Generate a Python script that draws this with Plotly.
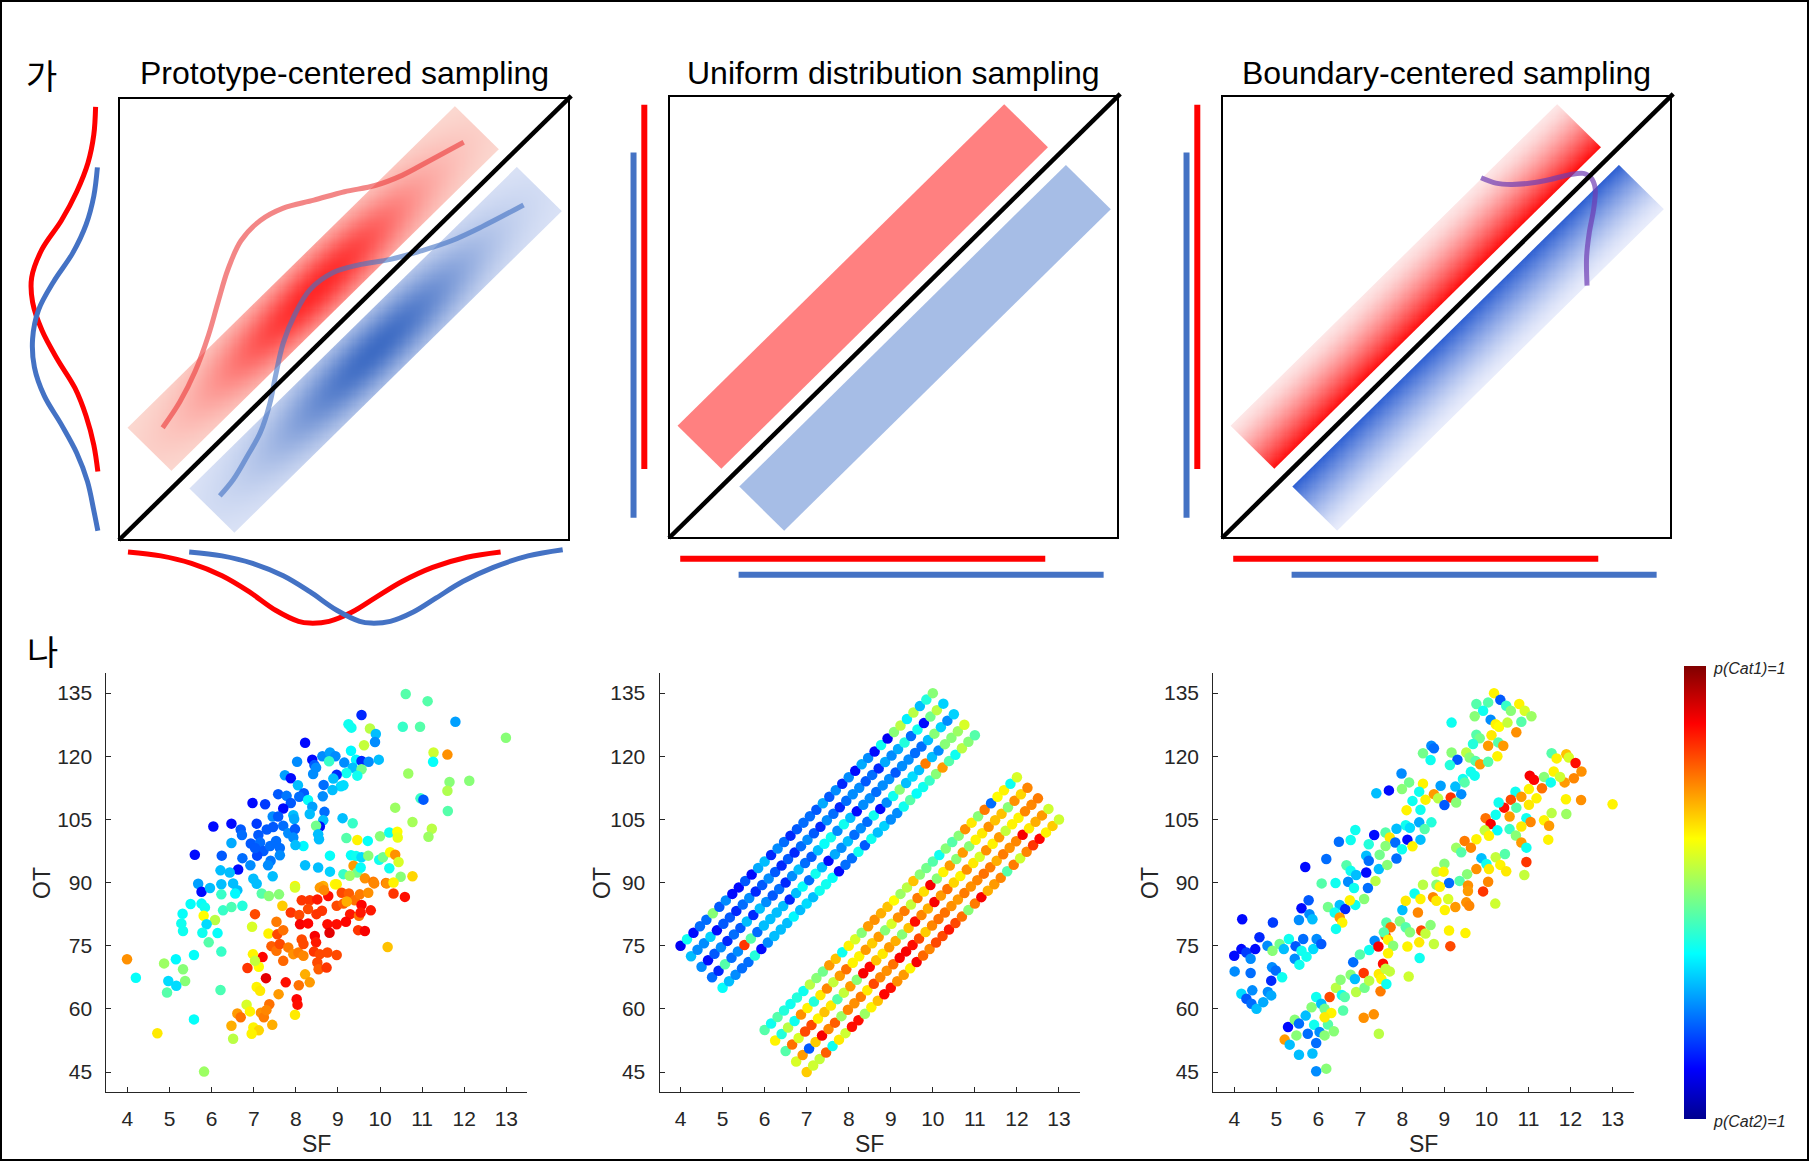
import numpy as np
import plotly.graph_objects as go

FIG_W, FIG_H = 1810, 1162
FONT = "Liberation Sans, Arial, Helvetica, sans-serif"
KFONT = "Noto Sans CJK KR, Noto Sans, sans-serif"
INK = "#262626"
RED = "#FF0000"
BLUE = "#4472C4"

# ------------------------------------------------------------------ text
TITLES = ["Prototype-centered sampling", "Uniform distribution sampling", "Boundary-centered sampling"]
SECTION_LABELS = ["가", "나"]
CBAR_TOP_LABEL = "p(Cat1)=1"
CBAR_BOTTOM_LABEL = "p(Cat2)=1"

# ------------------------------------------------------------------ top row schematics
# coordinates are relative to each square box: u (horizontal, 0..1), v (vertical, 0..1)
RED_BAND_U = [0.019, 0.1165, 0.844, 0.7465]
RED_BAND_V = [0.254, 0.1565, 0.884, 0.9815]
BLUE_BAND_U = [0.1565, 0.2565, 0.984, 0.884]
BLUE_BAND_V = [0.1165, 0.0165, 0.744, 0.844]
BAND_S = [0.273, 1.728]          # extent along the band (u+v)
RED_T = [0.04, 0.235]            # extent across the band (v-u), inner -> outer
BLUE_T = [-0.04, -0.24]

# prototype-centred density: peak position (s, t) and spread (along, across)
PROTO_RED_PEAK = [1.0, 0.13]
PROTO_BLUE_PEAK = [1.0, -0.14]
PROTO_SPREAD = [0.32, 0.07]

# marginal distributions around panel 1
PROTO_LEFT_RED_U = [-0.052, -0.056, -0.069, -0.094, -0.128, -0.171, -0.194, -0.192, -0.171, -0.137, -0.098, -0.073, -0.056, -0.047]
PROTO_LEFT_RED_V = [0.980, 0.917, 0.853, 0.788, 0.723, 0.658, 0.594, 0.538, 0.474, 0.409, 0.344, 0.280, 0.215, 0.155]
PROTO_LEFT_BLUE_U = [-0.048, -0.056, -0.073, -0.103, -0.145, -0.179, -0.192, -0.188, -0.166, -0.128, -0.094, -0.070, -0.056, -0.047]
PROTO_LEFT_BLUE_V = [0.843, 0.778, 0.714, 0.649, 0.585, 0.520, 0.455, 0.391, 0.326, 0.261, 0.197, 0.132, 0.067, 0.021]
PROTO_BOTTOM_RED_U = [0.020, 0.093, 0.161, 0.229, 0.289, 0.348, 0.399, 0.424, 0.467, 0.518, 0.569, 0.629, 0.697, 0.773, 0.848]
PROTO_BOTTOM_RED_V = [-0.027, -0.036, -0.053, -0.081, -0.117, -0.159, -0.184, -0.188, -0.184, -0.163, -0.131, -0.094, -0.062, -0.039, -0.027]
PROTO_BOTTOM_BLUE_U = [0.156, 0.229, 0.297, 0.365, 0.424, 0.484, 0.535, 0.560, 0.603, 0.654, 0.705, 0.764, 0.832, 0.909, 0.986]
PROTO_BOTTOM_BLUE_V = [-0.027, -0.036, -0.053, -0.081, -0.117, -0.159, -0.184, -0.188, -0.184, -0.163, -0.131, -0.094, -0.062, -0.036, -0.022]

# faded category curves inside panel 1
PROTO_RED_PATH_U = [0.097, 0.135, 0.169, 0.199, 0.220, 0.242, 0.271, 0.314, 0.365, 0.433, 0.501, 0.569, 0.629, 0.688, 0.766]
PROTO_RED_PATH_V = [0.254, 0.312, 0.381, 0.464, 0.538, 0.612, 0.677, 0.723, 0.751, 0.769, 0.788, 0.802, 0.825, 0.857, 0.900]
PROTO_BLUE_PATH_U = [0.224, 0.254, 0.284, 0.314, 0.335, 0.348, 0.365, 0.391, 0.424, 0.476, 0.535, 0.603, 0.671, 0.739, 0.807, 0.899]
PROTO_BLUE_PATH_V = [0.100, 0.137, 0.188, 0.243, 0.308, 0.372, 0.446, 0.511, 0.566, 0.605, 0.623, 0.635, 0.654, 0.677, 0.709, 0.758]

# uniform marginals (panels 2 and 3): position and span of each bar
BAR_RED_VERT = [-0.055, 0.156, 0.980]    # u, v0, v1
BAR_BLUE_VERT = [-0.079, 0.046, 0.872]
BAR_RED_HORZ = [-0.047, 0.025, 0.838]    # v, u0, u1
BAR_BLUE_HORZ = [-0.083, 0.155, 0.968]

# boundary-centred curve in panel 3
BOUND_PATH_U = [0.577, 0.610, 0.644, 0.688, 0.731, 0.774, 0.805, 0.822, 0.831, 0.828, 0.818, 0.812, 0.813]
BOUND_PATH_V = [0.815, 0.803, 0.800, 0.803, 0.811, 0.822, 0.825, 0.815, 0.792, 0.746, 0.691, 0.636, 0.571]

# ------------------------------------------------------------------ bottom row data
SF_TICKS = [4, 5, 6, 7, 8, 9, 10, 11, 12, 13]
OT_TICKS = [45, 60, 75, 90, 105, 120, 135]
SF_RANGE = [3.5, 13.5]
OT_RANGE = [40.3, 139.9]

# (SF, OT, p(Cat1))
PROTO_POINTS = [
    (10.61,134.8,.45),(11.13,133.1,.45),(9.56,129.8,.15),(11.79,128.2,.27),(12.99,124.4,.5),
    (9.25,127.6,.38),(9.32,126.8,.38),(9.76,126.6,.55),(9.90,125.3,.3),(9.88,123.4,.25),
    (10.54,127.0,.42),(10.95,127.0,.45),(8.22,123.2,.12),(9.62,122.6,.56),(9.31,121.3,.36),
    (11.27,120.9,.57),(11.6,120.4,.73),(11.26,118.7,.37),(8.03,118.7,.25),(8.39,119.2,.12),
    (8.44,117.9,.2),(8.63,120.0,.25),(8.81,120.9,.27),(8.94,120.0,.25),(8.79,118.8,.42),
    (9.15,118.5,.25),(9.43,119.2,.36),(9.56,118.9,.15),(9.73,118.7,.25),(9.97,119.2,.3),
    (9.35,117.3,.3),(9.56,116.9,.48),(9.46,115.4,.38),(9.2,116.0,.38),(8.97,115.6,.15),
    (8.89,114.7,.3),(8.41,115.8,.25),(8.48,117.3,.25),(7.74,115.5,.27),(7.88,114.8,.12),
    (8.05,113.1,.3),(8.66,113.2,.22),(9.07,112.9,.33),(9.13,113.1,.33),(8.87,112.0,.3),
    (10.67,115.9,.52),(11.65,113.9,.5),(12.12,114.2,.5),(11.6,111.8,.54),(10.96,110.0,.42),
    (11.03,109.7,.2),(11.61,107.0,.45),(10.36,107.8,.52),(7.58,111.0,.2),(7.78,110.6,.23),
    (8.19,111.2,.2),(8.08,110.4,.22),(7.88,108.9,.2),(7.70,107.6,.12),(6.97,108.9,.12),
    (7.27,108.6,.17),(8.29,109.6,.37),(8.39,108.0,.27),(8.64,110.5,.25),(8.68,106.8,.22),
    (8.33,106.3,.3),(7.94,106.0,.3),(7.96,105.1,.28),(7.45,105.7,.25),(7.58,105.7,.2),
    (8.65,104.8,.3),(9.11,105.3,.3),(9.35,104.1,.42),(8.57,103.3,.12),(8.48,103.5,.48),
    (8.53,101.5,.3),(8.55,100.3,.3),(9.2,100.6,.45),(9.46,100.1,.63),(9.71,99.9,.37),
    (10.0,101.0,.5),(10.22,101.9,.38),(10.41,102.1,.62),(10.42,100.7,.6),(10.77,104.4,.53),
    (11.23,102.8,.55),(11.15,100.9,.52),(6.04,103.3,.12),(6.47,104.0,.12),(6.69,102.6,.2),
    (6.72,101.3,.22),(7.07,104.0,.17),(7.11,101.3,.2),(7.31,102.6,.2),(7.46,103.2,.2),
    (7.7,103.5,.22),(7.82,101.7,.25),(7.98,102.7,.2),(7.94,100.7,.25),(8.18,98.7,.36),
    (7.99,98.9,.3),(6.93,99.3,.2),(7.15,99.5,.22),(7.23,97.5,.2),(7.39,98.7,.22),
    (7.53,99.9,.22),(7.62,98.2,.22),(7.08,96.4,.18),(7.03,98.2,.2),(6.47,99.4,.28),
    (5.6,96.6,.12),(6.24,96.4,.2),(6.73,95.8,.22),(6.92,94.1,.25),(7.4,95.2,.23),
    (7.34,94.1,.25),(7.62,96.5,.25),(6.63,93.1,.12),(6.21,92.9,.3),(6.43,92.4,.3),
    (6.99,90.9,.3),(7.07,89.7,.3),(7.45,91.5,.3),(5.68,89.7,.27),(8.22,94.1,.3),
    (8.53,93.6,.3),(8.81,92.6,.32),(8.81,96.4,.37),(9.13,92.0,.42),(9.31,96.5,.37),
    (9.43,96.3,.38),(9.56,96.0,.33),(9.72,96.4,.5),(9.37,94.0,.72),(9.46,92.4,.48),
    (9.54,93.6,.37),(9.98,95.4,.38),(10.07,96.0,.48),(10.22,93.4,.38),(10.24,97.2,.62),
    (10.36,96.6,.73),(10.44,94.9,.58),(10.49,91.4,.5),(10.77,91.5,.66),(9.28,91.6,.52),
    (9.64,91.0,.73),(9.84,90.2,.75),(10.14,89.9,.76),(7.98,89.2,.63),(8.65,89.2,.7),(8.93,89.6,.62),
    (5.76,87.8,.12),(5.96,88.7,.3),(6.23,89.6,.3),(6.23,87.2,.42),(6.51,89.8,.3),(6.61,88.2,.3),(6.56,87.4,.36),
    (7.98,88.8,.58),(7.19,87.4,.45),(7.36,86.8,.5),(7.6,87.2,.5),
    (5.5,84.9,.37),(5.76,85.0,.37),(5.84,84.1,.38),(6.27,83.4,.42),(6.47,84.2,.44),(6.73,84.5,.4),
    (5.31,82.6,.37),(5.81,82.1,.62),(6.08,81.1,.55),(5.28,80.3,.38),(5.32,78.5,.38),(5.88,80.1,.33),
    (5.78,78.1,.38),(6.14,78.0,.37),(5.93,75.8,.45),(5.58,72.8,.37),(5.15,71.8,.36),(6.23,73.6,.42),
    (3.99,71.8,.73),(4.2,67.4,.37),(4.87,70.8,.52),(5.32,69.4,.5),(5.37,66.6,.5),(4.97,66.6,.33),
    (5.16,65.5,.33),(4.94,63.9,.45),(6.21,64.5,.44),(5.58,57.5,.37),(4.71,54.2,.64),(5.82,45.1,.52),
    (7.03,82.5,.8),(6.96,79.5,.58),(7.35,77.9,.63),(7.54,80.7,.75),(7.68,84.5,.67),(7.88,82.9,.82),
    (8.14,85.8,.82),(8.33,85.8,.82),(8.51,86.0,.85),(8.29,83.7,.8),(8.49,82.5,.82),(8.62,83.3,.82),(8.77,86.8,.86),
    (8.57,88.8,.72),(8.67,88.2,.74),(8.97,89.6,.63),(9.09,87.6,.8),(9.26,87.4,.78),(9.4,85.8,.76),(9.52,87.2,.75),
    (9.56,84.7,.87),(9.72,87.6,.73),(8.97,84.5,.8),(9.13,85.0,.78),(9.21,85.5,.7),
    (9.29,82.5,.85),(9.5,82.1,.76),(9.54,82.9,.85),(9.78,83.4,.85),(10.32,87.4,.82),(10.59,86.6,.86),
    (9.86,89.8,.74),(10.16,89.8,.73),(10.32,90.0,.63),(8.08,82.3,.8),(8.1,80.1,.88),(8.29,80.3,.87),
    (8.75,80.1,.86),(8.97,80.1,.86),(8.8,78.1,.9),(9.19,80.7,.87),(9.48,78.7,.82),(9.64,78.5,.88),
    (7.56,77.7,.8),(7.7,78.7,.76),(7.42,74.9,.78),(7.54,73.8,.76),(7.62,75.4,.8),
    (7.82,74.6,.75),(7.94,73.0,.73),(8.06,73.4,.75),(8.18,72.6,.74),
    (8.14,76.5,.8),(8.18,75.4,.8),(8.45,77.3,.88),(8.48,75.8,.85),
    (8.43,73.6,.82),(8.57,73.0,.8),(8.75,73.4,.8),(8.97,72.8,.8),
    (8.51,71.0,.8),(8.54,69.4,.78),(8.73,69.8,.82),
    (7.21,72.3,.87),(6.85,69.7,.82),(6.98,73.0,.63),(7.12,70.0,.62),(7.03,71.4,.56),
    (7.29,67.3,.9),(7.76,66.3,.86),(7.7,71.4,.77),(8.07,65.6,.76),(8.22,68.2,.7),(8.33,66.3,.72),
    (7.07,65.2,.63),(7.15,64.3,.64),(7.59,63.5,.72),(8.02,62.3,.87),(8.04,61.0,.86),
    (6.83,61.0,.58),(6.61,58.9,.72),(6.69,58.0,.76),(6.91,59.4,.63),(7.17,59.1,.73),(7.24,58.0,.75),
    (7.37,61.1,.76),(7.3,59.7,.74),(7.98,58.6,.64),(6.47,56.0,.7),(6.99,55.6,.63),(7.12,54.9,.66),
    (6.95,54.1,.63),(7.44,56.2,.7),(6.51,52.9,.55),(10.18,74.7,.68),
]

# uniform grid: ten parallel rows of points (start of each row) and offsets along a row
UNI_START_SF = [4.0, 4.25, 4.5, 4.75, 5.0, 6.0, 6.25, 6.5, 6.75, 7.0]
UNI_START_OT = [75.0, 72.5, 70.0, 67.5, 65.0, 55.0, 52.5, 50.0, 47.5, 45.0]
UNI_STEP_SF = [0.0, 0.154, 0.308, 0.462, 0.615, 0.769, 0.923, 1.077, 1.231, 1.385,
               1.538, 1.692, 1.846, 2.0, 2.154, 2.308, 2.462, 2.615, 2.769, 2.923,
               3.077, 3.231, 3.385, 3.538, 3.692, 3.846, 4.0, 4.154, 4.308, 4.462,
               4.615, 4.769, 4.923, 5.077, 5.231, 5.385, 5.538, 5.692, 5.846, 6.0]
UNI_STEP_OT = [0.0, 1.54, 3.08, 4.62, 6.15, 7.69, 9.23, 10.77, 12.31, 13.85,
               15.38, 16.92, 18.46, 20.0, 21.54, 23.08, 24.62, 26.15, 27.69, 29.23,
               30.77, 32.31, 33.85, 35.38, 36.92, 38.46, 40.0, 41.54, 43.08, 44.62,
               46.15, 47.69, 49.23, 50.77, 52.31, 53.85, 55.38, 56.92, 58.46, 60.0]
UNI_P = [
    [.1,.38,.12,.22,.22,.5,.2,.25,.12,.12,.2,.12,.28,.3,.15,.25,.22,.15,.2,.22,.22,.2,.28,.2,.25,.15,.25,.12,.28,.25,.12,.38,.1,.5,.55,.35,.55,.3,.4,.5],
    [.3,.25,.25,.32,.12,.2,.2,.15,.22,.25,.15,.2,.25,.2,.15,.2,.15,.22,.25,.2,.15,.25,.22,.15,.22,.25,.25,.2,.22,.15,.28,.25,.28,.4,.22,.38,.12,.48,.55,.32],
    [.25,.12,.2,.25,.15,.22,.2,.3,.15,.3,.25,.2,.22,.15,.25,.3,.22,.2,.3,.37,.38,.25,.38,.3,.12,.25,.25,.22,.25,.25,.2,.25,.25,.22,.22,.3,.5,.32,.25,.32],
    [.22,.15,.45,.22,.25,.82,.45,.22,.3,.3,.3,.3,.15,.3,.37,.22,.38,.3,.12,.28,.25,.3,.22,.25,.22,.38,.12,.25,.38,.5,.3,.33,.3,.75,.3,.25,.5,.5,.52,.58],
    [.37,.3,.25,.22,.22,.4,.12,.25,.3,.3,.3,.36,.3,.33,.3,.38,.38,.37,.12,.22,.22,.38,.2,.38,.3,.32,.25,.25,.38,.45,.37,.38,.42,.5,.72,.45,.38,.55,.5,.45],
    [.45,.38,.45,.4,.38,.4,.38,.55,.5,.48,.72,.68,.38,.63,.58,.5,.72,.73,.7,.68,.62,.52,.55,.68,.5,.48,.45,.38,.5,.45,.5,.73,.64,.5,.75,.22,.62,.63,.38,.58],
    [.63,.4,.55,.38,.73,.63,.4,.64,.74,.56,.72,.76,.63,.63,.72,.67,.72,.5,.58,.73,.75,.56,.75,.65,.88,.5,.63,.72,.5,.72,.5,.63,.64,.73,.68,.68,.5,.73,.66,.74],
    [.45,.76,.58,.8,.8,.63,.68,.64,.45,.56,.72,.5,.88,.87,.68,.64,.72,.7,.5,.68,.86,.74,.7,.88,.72,.76,.66,.63,.73,.64,.58,.73,.63,.72,.56,.63,.63,.74,.74,.75],
    [.58,.72,.2,.67,.88,.74,.78,.52,.74,.73,.75,.64,.8,.74,.73,.76,.88,.88,.86,.8,.67,.74,.76,.76,.73,.72,.75,.73,.74,.76,.75,.7,.75,.73,.74,.88,.64,.7,.72,.57],
    [.67,.57,.56,.78,.38,.64,.57,.86,.86,.52,.63,.68,.87,.86,.73,.72,.63,.88,.77,.74,.8,.8,.85,.8,.76,.5,.75,.88,.7,.72,.74,.45,.75,.57,.74,.82,.87,.63,.67,.57],
]

BOUND_POINTS = [
    (10.18,135.0,.63),(10.33,133.4,.2),(9.76,132.4,.45),(10.04,132.8,.45),(9.92,130.8,.38),
    (10.47,132.0,.42),(10.58,130.8,.5),(10.78,132.4,.63),(10.91,130.8,.58),(11.07,129.5,.52),
    (9.17,128.0,.38),(9.72,129.5,.5),(10.1,128.7,.25),(10.22,127.6,.63),(10.3,127.0,.62),
    (10.5,128.0,.56),(10.83,128.2,.45),(10.71,125.7,.73),(9.76,125.1,.45),(9.84,124.3,.48),
    (10.12,125.0,.64),(10.28,123.3,.45),(10.4,122.5,.72),(9.68,122.9,.4),(10.04,122.5,.72),
    (8.69,122.5,.25),(8.75,121.9,.22),(8.49,120.7,.48),(9.17,120.9,.5),(8.67,119.1,.38),
    (9.31,119.2,.2),(9.52,120.9,.55),(9.6,119.7,.5),(9.74,118.9,.45),(9.85,118.1,.72),
    (10.26,120.0,.63),(10.04,118.7,.45),(9.13,117.9,.4),(9.63,116.3,.38),(9.72,115.4,.38),
    (7.98,115.9,.25),(8.16,113.8,.48),(8.49,113.5,.63),(9.44,114.6,.38),(9.48,113.8,.45),
    (8.91,113.0,.27),(9.26,112.8,.3),(7.38,111.2,.3),(7.68,111.9,.12),(7.99,112.2,.5),
    (8.4,111.6,.38),(8.55,109.7,.63),(8.75,111.0,.72),(8.85,110.0,.55),(9.15,110.2,.82),
    (9.4,111.0,.25),(8.24,109.4,.38),(9.0,108.4,.2),(9.28,109.0,.5),(8.1,107.2,.63),
    (8.43,107.3,.38),(8.69,104.3,.4),(8.4,104.3,.28),(8.08,103.6,.38),(8.18,103.0,.33),
    (7.86,102.8,.3),(8.53,102.7,.45),(6.88,102.5,.38),(7.33,101.3,.12),(7.6,101.9,.45),
    (7.7,100.7,.64),(7.83,99.5,.22),(8.12,100.2,.12),(8.43,100.2,.3),(8.24,98.6,.63),
    (7.99,97.9,.38),(6.49,99.7,.22),(6.77,100.1,.38),(7.2,99.1,.4),(7.6,98.7,.5),
    (7.46,96.6,.48),(7.86,95.7,.22),(6.19,95.6,.22),(7.14,96.4,.3),(7.2,95.2,.22),
    (6.67,94.1,.45),(5.69,93.7,.12),(6.77,92.8,.38),(6.9,91.8,.3),(7.14,92.4,.12),
    (7.44,93.2,.3),(7.64,94.2,.5),(6.08,89.8,.45),(6.41,89.9,.38),(6.71,90.2,.25),(7.36,90.4,.55),
    (11.55,120.7,.45),(11.67,119.5,.63),(11.9,120.5,.68),(11.96,119.7,.58),(12.12,118.4,.86),
    (12.26,116.4,.73),(12.08,114.8,.74),(11.86,113.8,.72),(11.6,116.4,.63),(11.75,115.1,.57),
    (11.37,115.1,.5),(11.53,113.8,.38),(11.03,115.4,.88),(11.13,114.4,.87),(11.32,112.4,.76),
    (11.01,112.2,.63),(11.19,110.0,.63),(11.01,108.5,.64),(10.69,111.6,.38),(10.83,110.4,.72),
    (10.58,109.7,.8),(10.42,107.8,.86),(10.29,109.0,.38),(10.71,107.8,.45),(11.89,109.8,.63),
    (12.25,109.6,.73),(13.0,108.6,.63),(11.55,106.5,.55),(11.9,106.3,.52),(11.37,104.8,.63),
    (11.49,103.5,.72),(11.47,100.2,.63),(9.98,105.3,.76),(10.1,103.9,.88),(10.22,106.1,.38),
    (10.55,105.7,.72),(10.95,105.3,.38),(11.05,104.4,.74),(10.26,102.4,.37),(10.55,102.7,.42),
    (10.7,101.2,.5),(10.83,103.3,.64),(10.83,99.5,.72),(10.95,98.3,.38),(9.96,102.4,.56),
    (10.06,101.1,.63),(9.76,100.3,.63),(9.48,99.9,.75),(9.63,98.3,.74),(9.28,98.3,.52),
    (9.4,97.2,.45),(9.88,95.8,.3),(10.0,94.4,.38),(10.22,96.0,.56),(10.44,96.8,.45),
    (10.33,94.2,.63),(10.47,92.7,.64),(10.95,94.9,.82),(9.76,93.2,.73),(10.06,93.2,.64),
    (9.0,94.5,.5),(8.81,92.6,.56),(8.98,92.6,.63),(9.54,92.0,.5),(9.36,90.4,.45),
    (10.04,90.2,.74),(10.9,91.8,.56),(9.11,89.9,.22),(8.49,89.5,.55),(8.81,89.5,.5),(9.56,89.3,.73),
    (7.18,88.7,.22),(6.85,88.7,.38),(5.77,85.8,.2),(5.6,83.9,.12),(5.54,81.1,.25),(5.79,82.5,.25),(5.86,81.3,.3),
    (6.23,84.2,.48),(6.51,84.7,.3),(6.64,83.7,.15),(6.39,82.9,.38),(6.88,84.7,.38),(7.09,86.1,.5),(6.75,85.8,.63),
    (6.51,81.7,.72),(6.57,80.5,.63),(6.42,79.0,.38),(4.19,81.3,.12),(4.92,80.5,.17),(4.6,77.0,.15),(4.79,75.0,.25),
    (4.17,74.2,.12),(4.0,72.6,.12),(4.29,73.4,.17),(4.39,71.9,.25),(4.5,74.2,.12),(4.91,73.8,.5),(5.08,75.4,.48),
    (5.18,74.2,.3),(5.3,76.6,.38),(5.46,74.9,.2),(5.6,73.8,.38),(5.44,71.9,.25),(5.55,70.5,.38),(5.72,72.4,.38),
    (5.64,76.6,.22),(5.88,74.2,.33),(5.96,76.6,.25),(6.07,75.4,.2),(4.01,68.9,.25),(4.39,68.5,.22),(4.9,69.9,.25),
    (4.99,69.1,.22),(4.88,66.7,.15),(5.14,67.5,.38),(4.17,63.6,.33),(4.29,62.4,.2),(4.41,61.2,.22),(4.53,60.0,.3),
    (4.43,64.4,.25),(4.69,61.6,.28),(4.8,64.0,.25),(4.88,63.2,.28),(5.28,55.7,.12),(5.2,52.7,.72),(5.32,51.5,.3),
    (5.44,57.4,.5),(5.54,56.5,.22),(5.48,53.7,.5),(5.54,49.1,.3),(5.7,58.4,.3),(5.75,54.1,.22),(5.86,49.4,.3),
    (5.9,56.2,.38),(5.95,51.9,.22),(5.95,45.2,.25),(6.19,45.8,.5),(6.03,54.5,.25),(6.15,53.7,.5),(6.23,56.3,.45),
    (6.37,54.7,.5),(5.84,60.4,.5),(5.95,62.8,.38),(6.07,61.2,.3),(6.15,60.0,.48),(6.27,62.8,.8),(6.31,59.0,.63),
    (6.42,65.0,.55),(6.56,63.3,.38),(6.53,66.9,.5),(6.63,62.8,.45),(6.15,58.0,.64),(6.59,59.6,.45),(6.83,71.1,.22),
    (6.77,68.1,.5),(6.87,67.1,.3),(6.9,64.0,.55),(6.99,72.9,.45),(7.08,68.5,.82),(7.1,65.0,.48),(7.08,57.9,.73),
    (7.21,66.7,.55),(7.21,74.0,.38),(7.34,76.2,.25),(7.43,74.8,.88),(7.32,58.7,.73),(7.44,54.1,.55),(7.48,64.2,.75),
    (7.44,68.3,.64),(7.5,67.1,.63),(7.54,70.7,.86),(7.6,69.5,.56),(7.62,65.9,.38),(7.7,68.9,.56),(7.6,77.4,.8),
    (7.62,80.5,.45),(7.72,79.4,.76),(7.56,78.2,.45),(7.66,76.4,.63),(7.78,75.0,.5),(7.66,73.2,.63),(8.0,83.5,.3),
    (8.08,85.7,.64),(7.94,80.8,.5),(8.29,87.4,.38),(8.43,86.1,.63),(8.37,82.9,.74),(8.08,79.4,.45),(8.18,78.2,.5),
    (8.12,74.8,.63),(8.4,75.8,.64),(8.41,72.1,.38),(8.15,67.7,.57),(8.45,78.6,.8),(8.55,77.9,.56),(8.67,79.9,.5),
    (8.75,75.4,.56),(9.14,74.9,.8),(9.11,78.6,.63),(9.5,78.0,.63),(8.73,86.5,.74),(8.81,85.7,.64),(8.89,89.0,.63),
    (9.01,83.5,.63),(9.09,86.1,.58),(9.26,84.2,.72),(9.56,88.0,.72),(9.52,85.3,.73),
    (9.59,84.5,.74),(9.92,87.9,.82),(10.21,85.0,.57),
]

JET = [[0.0, "rgb(0,0,143)"], [0.111, "rgb(0,0,255)"], [0.365, "rgb(0,255,255)"],
       [0.619, "rgb(255,255,0)"], [0.873, "rgb(255,0,0)"], [1.0, "rgb(128,0,0)"]]

# ------------------------------------------------------------------ layout geometry (pixels)
TOP_BOX_X = [(119, 569), (669, 1118), (1222, 1671)]
TOP_BOX_Y = [(98, 540), (96, 538), (96, 538)]
TOP_DOM_X = [(18, 580), (615, 1125), (1170, 1680)]
TOP_DOM_Y = (85, 640)
BOT_DOM_X = [(106.4, 527.4), (659.5, 1080.0), (1213.2, 1633.6)]
BOT_DOM_Y = (672.5, 1091.8)


def fx(px):
    return px / FIG_W


def fy(py):
    return 1 - py / FIG_H


def ax_key(n, kind):
    return kind + "axis" + ("" if n == 1 else str(n))


def ax_ref(n, kind):
    return kind + ("" if n == 1 else str(n))


def st_to_uv(s_vals, t_vals):
    return [(s - t) / 2 for s, t in zip(s_vals, t_vals)], [(s + t) / 2 for s, t in zip(s_vals, t_vals)]


fig = go.Figure()
layout = dict(width=FIG_W, height=FIG_H, margin=dict(l=0, r=0, t=0, b=0),
              paper_bgcolor="white", plot_bgcolor="white", showlegend=False)
shapes = []
annotations = []


def label(text, xpx, ypx, size, family=FONT, color="black", angle=0, xanchor="center"):
    annotations.append(dict(text=text, x=fx(xpx), y=fy(ypx), xref="paper", yref="paper",
                            showarrow=False, xanchor=xanchor, yanchor="middle", textangle=angle,
                            font=dict(family=family, size=size, color=color)))


# ---- top axes
for i in range(3):
    n = i + 1
    bx0, bx1 = TOP_BOX_X[i]
    by0, by1 = TOP_BOX_Y[i]
    dx0, dx1 = TOP_DOM_X[i]
    dy0, dy1 = TOP_DOM_Y
    urange = [(dx0 - bx0) / (bx1 - bx0), (dx1 - bx0) / (bx1 - bx0)]
    vrange = [(by1 - dy1) / (by1 - by0), (by1 - dy0) / (by1 - by0)]
    layout[ax_key(n, "x")] = dict(domain=[fx(dx0), fx(dx1)], range=urange, visible=False,
                                  fixedrange=True, anchor=ax_ref(n, "y"))
    layout[ax_key(n, "y")] = dict(domain=[fy(dy1), fy(dy0)], range=vrange, visible=False,
                                  fixedrange=True, anchor=ax_ref(n, "x"))
    shapes.append(dict(type="rect", xref=ax_ref(n, "x"), yref=ax_ref(n, "y"), x0=0, y0=0, x1=1, y1=1,
                       line=dict(color="black", width=2), layer="above"))
    label(TITLES[i], (bx0 + bx1) / 2, 73, 32)

# ---- gradient bands (panels 1 and 3): slightly oversized grid, trimmed by white masks
g = np.arange(0.0, 1.00001, 0.0025)
GU, GV = np.meshgrid(g, g)
S = GU + GV
T = GV - GU
PAD = 0.012
in_s = (S >= BAND_S[0] - PAD) & (S <= BAND_S[1] + PAD)
red_mask = in_s & (T >= min(RED_T) - PAD) & (T <= max(RED_T) + PAD)
blue_mask = in_s & (T >= min(BLUE_T) - PAD) & (T <= max(BLUE_T) + PAD)
gap_mid = (min(RED_T) + max(BLUE_T)) / 2
red_mask &= T > gap_mid
blue_mask &= T <= gap_mid

I_red = np.exp(-0.5 * ((S - PROTO_RED_PEAK[0]) / PROTO_SPREAD[0]) ** 2
               - 0.5 * ((T - PROTO_RED_PEAK[1]) / PROTO_SPREAD[1]) ** 2)
I_blue = np.exp(-0.5 * ((S - PROTO_BLUE_PEAK[0]) / PROTO_SPREAD[0]) ** 2
                - 0.5 * ((T - PROTO_BLUE_PEAK[1]) / PROTO_SPREAD[1]) ** 2)
z1 = np.full(S.shape, np.nan)
z1[red_mask] = 0.51 + 0.49 * I_red[red_mask]
z1[blue_mask] = 0.49 - 0.49 * I_blue[blue_mask]
fig.add_trace(go.Heatmap(x=g, y=g, z=z1.astype(np.float32), zmin=0, zmax=1, showscale=False,
                         hoverinfo="skip", xaxis="x", yaxis="y",
                         colorscale=[[0, "rgb(62,108,196)"], [0.49, "rgb(222,229,247)"],
                                     [0.51, "rgb(251,221,213)"], [1, "rgb(255,40,40)"]]))

I_red3 = np.clip((max(RED_T) - T) / (max(RED_T) - min(RED_T)), 0, 1) ** 1.4
I_blue3 = np.clip((T - min(BLUE_T)) / (max(BLUE_T) - min(BLUE_T)), 0, 1) ** 1.4
z3 = np.full(S.shape, np.nan)
z3[red_mask] = 0.51 + 0.49 * I_red3[red_mask]
z3[blue_mask] = 0.49 - 0.49 * I_blue3[blue_mask]
fig.add_trace(go.Heatmap(x=g, y=g, z=z3.astype(np.float32), zmin=0, zmax=1, showscale=False,
                         hoverinfo="skip", xaxis="x3", yaxis="y3",
                         colorscale=[[0, "rgb(45,95,210)"], [0.49, "rgb(232,236,251)"],
                                     [0.51, "rgb(253,230,230)"], [1, "rgb(255,15,15)"]]))

# white masks (in band coordinates s, t) give the gradient bands crisp edges
FAR = 6.0
MASKS_ST = [
    ([-FAR, FAR, FAR, -FAR], [max(RED_T), max(RED_T), FAR, FAR]),                 # beyond red band
    ([-FAR, FAR, FAR, -FAR], [max(BLUE_T), max(BLUE_T), min(RED_T), min(RED_T)]),  # gap at the boundary
    ([-FAR, FAR, FAR, -FAR], [-FAR, -FAR, min(BLUE_T), min(BLUE_T)]),             # beyond blue band
    ([-FAR, BAND_S[0], BAND_S[0], -FAR], [-FAR, -FAR, FAR, FAR]),                 # lower ends
    ([BAND_S[1], FAR, FAR, BAND_S[1]], [-FAR, -FAR, FAR, FAR]),                   # upper ends
]
for n in (1, 3):
    for s_vals, t_vals in MASKS_ST:
        mu, mv = st_to_uv(s_vals, t_vals)
        fig.add_trace(go.Scatter(x=mu + mu[:1], y=mv + mv[:1], mode="none", fill="toself",
                                 fillcolor="white", hoverinfo="skip",
                                 xaxis=ax_ref(n, "x"), yaxis=ax_ref(n, "y")))

# panel 2: flat bands
fig.add_trace(go.Scatter(x=RED_BAND_U + RED_BAND_U[:1], y=RED_BAND_V + RED_BAND_V[:1], mode="none",
                         fill="toself", fillcolor="#FF8080", hoverinfo="skip", xaxis="x2", yaxis="y2"))
fig.add_trace(go.Scatter(x=BLUE_BAND_U + BLUE_BAND_U[:1], y=BLUE_BAND_V + BLUE_BAND_V[:1], mode="none",
                         fill="toself", fillcolor="#A6BDE6", hoverinfo="skip", xaxis="x2", yaxis="y2"))


def line(xs, ys, color, width, n, shape="linear"):
    fig.add_trace(go.Scatter(x=xs, y=ys, mode="lines", hoverinfo="skip",
                             line=dict(color=color, width=width, shape=shape),
                             xaxis=ax_ref(n, "x"), yaxis=ax_ref(n, "y")))


# panel 1 curves
line(PROTO_RED_PATH_U, PROTO_RED_PATH_V, "rgba(235,60,60,0.62)", 5, 1, "spline")
line(PROTO_BLUE_PATH_U, PROTO_BLUE_PATH_V, "rgba(68,114,196,0.62)", 5, 1, "spline")
line(PROTO_LEFT_RED_U, PROTO_LEFT_RED_V, RED, 5, 1, "spline")
line(PROTO_LEFT_BLUE_U, PROTO_LEFT_BLUE_V, BLUE, 5, 1, "spline")
line(PROTO_BOTTOM_RED_U, PROTO_BOTTOM_RED_V, RED, 5, 1, "spline")
line(PROTO_BOTTOM_BLUE_U, PROTO_BOTTOM_BLUE_V, BLUE, 5, 1, "spline")

# panel 3 curve
line(BOUND_PATH_U, BOUND_PATH_V, "rgba(110,60,180,0.7)", 5, 3, "spline")

# panels 2 and 3 marginal bars
for n in (2, 3):
    line([BAR_RED_VERT[0]] * 2, BAR_RED_VERT[1:], RED, 6, n)
    line([BAR_BLUE_VERT[0]] * 2, BAR_BLUE_VERT[1:], BLUE, 6, n)
    line(BAR_RED_HORZ[1:], [BAR_RED_HORZ[0]] * 2, RED, 6, n)
    line(BAR_BLUE_HORZ[1:], [BAR_BLUE_HORZ[0]] * 2, BLUE, 6, n)

# category boundary (diagonal)
for n in (1, 2, 3):
    line([0, 1.005], [0, 1.005], "black", 4.5, n)

# ---- section labels
label(SECTION_LABELS[0], 41, 75, 34, family=KFONT)
label(SECTION_LABELS[1], 42, 650, 34, family=KFONT)

# ---- bottom axes
tick_font = dict(family=FONT, size=21, color=INK)
for j in range(3):
    n = j + 4
    x0, x1 = BOT_DOM_X[j]
    common = dict(showline=True, linecolor=INK, linewidth=1, ticks="inside", ticklen=5, tickwidth=1,
                  tickcolor=INK, showgrid=False, zeroline=False, tickfont=tick_font, fixedrange=True)
    layout[ax_key(n, "x")] = dict(domain=[fx(x0), fx(x1)], range=SF_RANGE, tickvals=SF_TICKS,
                                  anchor=ax_ref(n, "y"), ticklabelstandoff=8, **common)
    layout[ax_key(n, "y")] = dict(domain=[fy(BOT_DOM_Y[1]), fy(BOT_DOM_Y[0])], range=OT_RANGE,
                                  tickvals=OT_TICKS, anchor=ax_ref(n, "x"), ticklabelstandoff=9, **common)
    label("SF", (x0 + x1) / 2, 1144, 23, color=INK)

for xpx in (42, 602, 1150):
    label("OT", xpx, 883, 23, color=INK, angle=-90)

marker_base = dict(size=10.5, colorscale=JET, cmin=0, cmax=1, line=dict(width=0))

p_sf, p_ot, p_p = zip(*PROTO_POINTS)
fig.add_trace(go.Scatter(x=p_sf, y=p_ot, mode="markers", marker=dict(color=p_p, **marker_base),
                         hoverinfo="skip", xaxis="x4", yaxis="y4"))

u_sf, u_ot, u_p = [], [], []
for s0, o0, ps in zip(UNI_START_SF, UNI_START_OT, UNI_P):
    for ds, do, p in zip(UNI_STEP_SF, UNI_STEP_OT, ps):
        u_sf.append(s0 + ds)
        u_ot.append(o0 + do)
        u_p.append(p)
fig.add_trace(go.Scatter(x=u_sf, y=u_ot, mode="markers", marker=dict(color=u_p, **marker_base),
                         hoverinfo="skip", xaxis="x5", yaxis="y5"))

b_sf, b_ot, b_p = zip(*BOUND_POINTS)
fig.add_trace(go.Scatter(
    x=b_sf, y=b_ot, mode="markers", hoverinfo="skip", xaxis="x6", yaxis="y6",
    marker=dict(color=b_p, showscale=True,
                colorbar=dict(x=fx(1684), xanchor="left", thickness=22, thicknessmode="pixels",
                              len=(1119 - 666) / FIG_H, lenmode="fraction", y=fy((666 + 1119) / 2),
                              yanchor="middle", outlinewidth=0, showticklabels=False, ticks="",
                              xpad=0, ypad=0),
                **marker_base)))

label("<i>" + CBAR_TOP_LABEL + "</i>", 1711, 668, 16, color=INK, xanchor="left")
label("<i>" + CBAR_BOTTOM_LABEL + "</i>", 1711, 1121, 16, color=INK, xanchor="left")

# outer frame
shapes.append(dict(type="rect", xref="paper", yref="paper", x0=fx(1), x1=fx(1808), y0=fy(1160), y1=fy(1),
                   line=dict(color="black", width=2)))

layout["shapes"] = shapes
layout["annotations"] = annotations
fig.update_layout(**layout)

fig.write_html("out.html", config={"displayModeBar": False},
               post_script="document.body.style.margin='0';document.body.style.overflow='hidden';")
